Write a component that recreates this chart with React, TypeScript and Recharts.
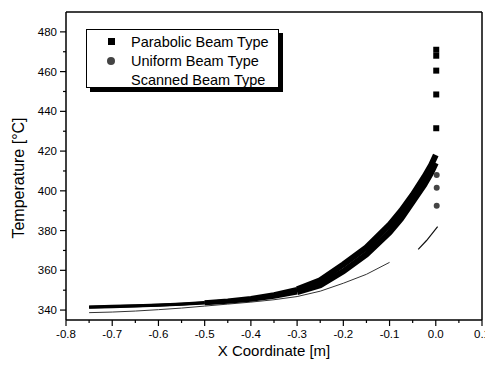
import React from 'react';
import { ComposedChart, Scatter, XAxis, YAxis } from 'recharts';

// x ticks every 0.05, labels on the 0.1 ones
const xTicks = [-0.8, -0.75, -0.7, -0.65, -0.6, -0.55, -0.5, -0.45, -0.4, -0.35, -0.3, -0.25, -0.2, -0.15, -0.1, -0.05, 0, 0.05, 0.1];
const yTicks = [340, 350, 360, 370, 380, 390, 400, 410, 420, 430, 440, 450, 460, 470, 480];

// Parabolic beam: far field (sparse dots), middle, near field (dense band)
const parabolicFar = [
  { x: -0.75, y: 341.6 }, { x: -0.7, y: 341.9 }, { x: -0.65, y: 342.2 }, { x: -0.6, y: 342.6 },
  { x: -0.55, y: 343.1 }, { x: -0.5, y: 343.8 },
];
const parabolicMid = [
  { x: -0.5, y: 343.8 }, { x: -0.45, y: 344.7 }, { x: -0.4, y: 346 }, { x: -0.35, y: 347.8 },
  { x: -0.3, y: 350.5 },
];
const parabolicNear = [
  { x: -0.3, y: 350.5 }, { x: -0.25, y: 355 }, { x: -0.2, y: 363 }, { x: -0.15, y: 371.5 },
  { x: -0.1, y: 383 }, { x: -0.075, y: 390 }, { x: -0.05, y: 398 }, { x: -0.025, y: 407 },
  { x: -0.01, y: 413 }, { x: 0, y: 418 },
];
// Parabolic beam: points at the beam centre
const parabolicPeak = [
  { x: 0.001, y: 431.5 }, { x: 0.001, y: 448.5 }, { x: 0.001, y: 460.5 },
  { x: 0.001, y: 468 }, { x: 0.001, y: 471 },
];

const uniformFar = [
  { x: -0.75, y: 341.4 }, { x: -0.7, y: 341.7 }, { x: -0.65, y: 342 }, { x: -0.6, y: 342.4 },
  { x: -0.55, y: 342.9 }, { x: -0.5, y: 343.5 },
];
const uniformMid = [
  { x: -0.5, y: 343.5 }, { x: -0.45, y: 344.3 }, { x: -0.4, y: 345.3 }, { x: -0.35, y: 346.8 },
  { x: -0.3, y: 349 },
];
const uniformNear = [
  { x: -0.3, y: 349 }, { x: -0.25, y: 352.5 }, { x: -0.2, y: 359.5 }, { x: -0.15, y: 368 },
  { x: -0.1, y: 379 }, { x: -0.075, y: 386 }, { x: -0.05, y: 394.5 }, { x: -0.025, y: 403 },
  { x: -0.01, y: 409 }, { x: 0, y: 414 },
];
const uniformPeak = [{ x: 0.002, y: 408 }, { x: 0.002, y: 401.5 }, { x: 0.002, y: 392.5 }];

// Scanned beam: thin line with a gap before the centre
const scannedA = [
  { x: -0.75, y: 338.7 }, { x: -0.7, y: 339 }, { x: -0.65, y: 339.5 }, { x: -0.6, y: 340.2 },
  { x: -0.55, y: 341 }, { x: -0.5, y: 342 }, { x: -0.45, y: 343 }, { x: -0.4, y: 344 },
  { x: -0.35, y: 345.2 }, { x: -0.3, y: 346.8 }, { x: -0.25, y: 349.5 }, { x: -0.2, y: 353.5 },
  { x: -0.15, y: 358 }, { x: -0.1, y: 364 },
];
const scannedB = [{ x: -0.038, y: 370.5 }, { x: -0.02, y: 375 }, { x: 0.004, y: 382 }];

const font = 'Liberation Sans, Arial, sans-serif';

const Square = (p: any) => <rect x={p.cx - 3} y={p.cy - 3} width={6} height={6} fill="#000" />;
const Dot = (p: any) => <circle cx={p.cx} cy={p.cy} r={3} fill="#444" />;
const Nothing = () => <g />;

const BottomTick = (p: any) => {
  const v = p.payload.value;
  const major = Math.round(v * 100) % 10 === 0;
  return (
    <g>
      <line x1={p.x} x2={p.x} y1={p.y} y2={p.y + (major ? 6 : 3)} stroke="#000" strokeWidth={1.2} />
      {major && (
        <text x={p.x} y={p.y + 18} textAnchor="middle" fontSize={11.5} fontFamily={font} fill="#000">
          {v.toFixed(1)}
        </text>
      )}
    </g>
  );
};

const TopTick = (p: any) => {
  const major = Math.round(p.payload.value * 100) % 10 === 0;
  return <line x1={p.x} x2={p.x} y1={p.y} y2={p.y + (major ? 6 : 3)} stroke="#000" strokeWidth={1.2} />;
};

const LeftTick = (p: any) => {
  const v = p.payload.value;
  const major = v % 20 === 0;
  return (
    <g>
      <line x1={p.x - (major ? 6 : 3)} x2={p.x} y1={p.y} y2={p.y} stroke="#000" strokeWidth={1.2} />
      {major && (
        <text x={p.x - 9} y={p.y + 4} textAnchor="end" fontSize={11.5} fontFamily={font} fill="#000">
          {v}
        </text>
      )}
    </g>
  );
};

const RightTick = (p: any) => {
  const major = p.payload.value % 20 === 0;
  return <line x1={p.x - (major ? 6 : 3)} x2={p.x} y1={p.y} y2={p.y} stroke="#000" strokeWidth={1.2} />;
};

const legendRow: React.CSSProperties = { display: 'flex', alignItems: 'center', height: 19 };

export default function App() {
  return (
    <div style={{ position: 'absolute', left: 0, top: 0, width: 485, height: 367, background: '#fff' }}>
      <ComposedChart width={485} height={367} margin={{ top: 11, right: 2, bottom: 17, left: 0 }}>
        <XAxis
          xAxisId={0}
          type="number"
          dataKey="x"
          domain={[-0.8, 0.1]}
          ticks={xTicks}
          interval={0}
          height={30}
          tickSize={0}
          tickMargin={0}
          tickLine={false}
          tick={<BottomTick />}
          stroke="#000"
          strokeWidth={1.5}
          label={{
            content: () => (
              <text x={274} y={356} textAnchor="middle" fontSize={15} fontFamily={font} fill="#000">
                X Coordinate [m]
              </text>
            ),
          }}
        />
        <XAxis
          xAxisId="top"
          orientation="top"
          type="number"
          dataKey="x"
          domain={[-0.8, 0.1]}
          ticks={xTicks}
          interval={0}
          height={1}
          tickSize={0}
          tickMargin={0}
          tickLine={false}
          tick={<TopTick />}
          stroke="#000"
          strokeWidth={1.5}
        />
        <YAxis
          yAxisId={0}
          type="number"
          dataKey="y"
          domain={[335, 490]}
          ticks={yTicks}
          interval={0}
          width={66}
          tickSize={0}
          tickMargin={0}
          tickLine={false}
          tick={<LeftTick />}
          stroke="#000"
          strokeWidth={1.5}
          label={{
            content: () => (
              <text
                x={24}
                y={178}
                textAnchor="middle"
                fontSize={16}
                fontFamily={font}
                fill="#000"
                transform="rotate(-90 24 178)"
              >
                Temperature [°C]
              </text>
            ),
          }}
        />
        <YAxis
          yAxisId="right"
          orientation="right"
          type="number"
          dataKey="y"
          domain={[335, 490]}
          ticks={yTicks}
          interval={0}
          width={1}
          tickSize={0}
          tickMargin={0}
          tickLine={false}
          tick={<RightTick />}
          stroke="#000"
          strokeWidth={1.5}
        />
        <Scatter data={scannedA} line={{ stroke: '#333', strokeWidth: 1 }} shape={<Nothing />} isAnimationActive={false} />
        <Scatter data={scannedB} line={{ stroke: '#111', strokeWidth: 1.2 }} shape={<Nothing />} isAnimationActive={false} />
        <Scatter data={uniformFar} line={{ stroke: '#000', strokeWidth: 3 }} shape={<Nothing />} isAnimationActive={false} />
        <Scatter data={uniformMid} line={{ stroke: '#000', strokeWidth: 4.5 }} shape={<Nothing />} isAnimationActive={false} />
        <Scatter data={uniformNear} line={{ stroke: '#000', strokeWidth: 6 }} shape={<Nothing />} isAnimationActive={false} />
        <Scatter data={uniformPeak} shape={<Dot />} isAnimationActive={false} />
        <Scatter data={parabolicFar} line={{ stroke: '#000', strokeWidth: 3 }} shape={<Nothing />} isAnimationActive={false} />
        <Scatter data={parabolicMid} line={{ stroke: '#000', strokeWidth: 4.5 }} shape={<Nothing />} isAnimationActive={false} />
        <Scatter data={parabolicNear} line={{ stroke: '#000', strokeWidth: 6 }} shape={<Nothing />} isAnimationActive={false} />
        <Scatter data={parabolicPeak} shape={<Square />} isAnimationActive={false} />
      </ComposedChart>

      <div
        style={{
          position: 'absolute',
          left: 86,
          top: 29,
          width: 193,
          height: 59,
          border: '1px solid #000',
          background: '#fff',
          boxShadow: '4px 4px 0 #000',
          fontFamily: font,
          fontSize: 14.5,
          color: '#000',
          boxSizing: 'border-box',
          paddingTop: 2,
        }}
      >
        <div style={legendRow}>
          <span style={{ width: 7, height: 7, background: '#000', marginLeft: 21, marginRight: 16 }} />
          Parabolic Beam Type
        </div>
        <div style={legendRow}>
          <span style={{ width: 8, height: 8, borderRadius: 4, background: '#444', marginLeft: 20, marginRight: 16 }} />
          Uniform Beam Type
        </div>
        <div style={legendRow}>
          <span style={{ width: 8, marginLeft: 20, marginRight: 16 }} />
          Scanned Beam Type
        </div>
      </div>
    </div>
  );
}
